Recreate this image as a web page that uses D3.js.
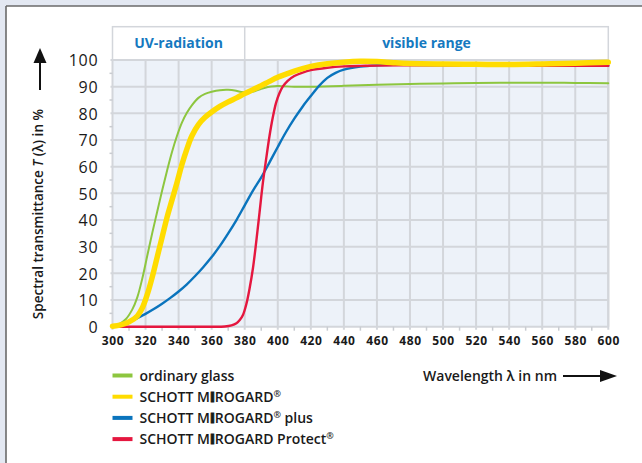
<!DOCTYPE html>
<html><head><meta charset="utf-8">
<script src="https://cdn.jsdelivr.net/npm/d3@7"></script>
<style>
body{margin:0;background:#e3e8f2;}
svg{display:block;font-family:"Open Sans",sans-serif;}
</style>
</head><body>
<svg id="c" width="642" height="463"></svg>
<script>
// ---- data (wavelength nm, transmittance %) ----
const ordinaryGlass = [[300,0.3],[304,1],[308,2.8],[312,6.5],[315,11],[318,18],[321,26.5],[324,35],[327,43],[330,51],[333,58.5],[336,65.5],[339,71.5],[342,76.5],[345,80.2],[348,83],[352,85.8],[356,87.3],[360,88.1],[365,88.7],[370,88.8],[374,88.6],[378,88.0],[382,87.9],[386,88.3],[390,89.2],[394,89.9],[398,90.2],[402,90.2],[410,90],[420,90],[440,90.3],[460,90.7],[480,91],[500,91.2],[520,91.4],[540,91.5],[560,91.5],[580,91.4],[600,91.3]];
const mirogard = [[300,0.2],[305,0.7],[310,1.8],[315,4],[318,7],[321,12],[324,18.5],[327,26],[330,33.5],[333,41],[336,47.5],[339,54],[342,60.8],[345,66.6],[348,71.5],[352,75.8],[356,78.5],[360,80.5],[365,82.6],[370,84.3],[375,85.8],[380,87.4],[385,88.9],[390,90.4],[395,92],[400,93.5],[405,94.7],[410,95.8],[415,96.8],[420,97.6],[430,98.6],[440,99.2],[450,99.5],[460,99.4],[470,99],[480,98.7],[500,98.5],[520,98.4],[540,98.3],[560,98.5],[580,98.8],[600,99.2]];
const mirogardPlus = [[300,0],[305,0.7],[310,1.7],[315,3.2],[320,4.8],[325,6.6],[330,8.6],[335,10.8],[340,13.2],[345,15.9],[350,19],[355,22.4],[360,26.1],[365,30.3],[370,35],[375,40],[380,45.5],[385,51],[390,56],[395,61.6],[400,67.4],[405,73],[410,78],[415,82.5],[420,86.5],[425,90.3],[430,93.3],[435,95.2],[440,96.4],[450,97.5],[460,98],[470,98.2],[480,98.2],[500,98.1],[520,98],[540,98],[560,98],[580,98],[600,97.9]];
const mirogardProtect = [[300,0],[320,0],[340,0],[360,0],[368,0.1],[372,0.5],[375,1.3],[377,2.5],[379,4.5],[381,8.5],[383,14.5],[385,22],[387,32],[389,43],[391,54],[393,63],[395,71.5],[397,78.5],[399,84],[401,87.5],[403,90],[406,92.2],[410,94],[415,95.3],[420,96.2],[430,97.1],[440,97.6],[450,97.8],[460,97.9],[480,98],[500,98],[520,97.9],[540,97.9],[560,97.8],[580,97.8],[600,97.8]];
const seriesNames = ["ordinary glass","SCHOTT MIROGARD®","SCHOTT MIROGARD® plus","SCHOTT MIROGARD Protect®"];
const seriesColors = ["#8dc63f","#ffdc00","#0a74bd","#e5173f"];
const xTicks = [300,320,340,360,380,400,420,440,460,480,500,520,540,560,580,600];
const yTicks = [0,10,20,30,40,50,60,70,80,90,100];
const rangeLabels = ["UV-radiation","visible range"];
const rangeBounds = [[300,380],[380,600]];

const svg = d3.select("#c");
// panel
svg.append("rect").attr("x",0).attr("y",0).attr("width",642).attr("height",463).attr("fill","#e3e8f2");
svg.append("rect").attr("x",6).attr("y",6).attr("width",640).attr("height",460).attr("fill","#fff");
svg.append("line").attr("x1",6).attr("x2",642).attr("y1",6).attr("y2",6).attr("stroke","#6a6a6a").attr("stroke-width",1.6);
svg.append("line").attr("x1",6).attr("x2",6).attr("y1",6).attr("y2",463).attr("stroke","#6a6a6a").attr("stroke-width",1.6);

const x = d3.scaleLinear().domain([300,600]).range([112.5,608.3]);
const y = d3.scaleLinear().domain([0,100]).range([326.7,60]);
const gridCol = "#d3d6db";

// plot background
svg.append("rect").attr("x",x(300)).attr("y",y(100)).attr("width",x(600)-x(300)).attr("height",y(0)-y(100)).attr("fill","#edf2f9");

// header band
const hTop = 26.7;
svg.append("rect").attr("x",x(300)).attr("y",hTop).attr("width",x(600)-x(300)).attr("height",y(100)-hTop)
  .attr("fill","#fff").attr("stroke",gridCol).attr("stroke-width",1.5);
svg.append("line").attr("x1",x(380)).attr("x2",x(380)).attr("y1",hTop).attr("y2",y(100)).attr("stroke",gridCol).attr("stroke-width",1.5);
svg.selectAll("text.range").data(rangeLabels).join("text").attr("class","range")
  .attr("x",(d,i)=>(x(rangeBounds[i][0])+x(rangeBounds[i][1]))/2).attr("y",48)
  .attr("text-anchor","middle").attr("fill","#1579c0").attr("font-weight",700).attr("font-size",14)
  .text(d=>d);

// grid
const g = svg.append("g");
g.selectAll("line.vg").data(xTicks).join("line").attr("class","vg")
  .attr("x1",d=>x(d)).attr("x2",d=>x(d)).attr("y1",y(100)).attr("y2",y(0)+3)
  .attr("stroke",gridCol).attr("stroke-width",2);
g.selectAll("line.hg").data(yTicks).join("line").attr("class","hg")
  .attr("x1",x(300)-2).attr("x2",x(600)).attr("y1",d=>y(d)).attr("y2",d=>y(d))
  .attr("stroke",gridCol).attr("stroke-width",2);
// minor ticks
const xMinor = xTicks.slice(0,-1).map(d=>d+10);
const yMinor = yTicks.slice(0,-1).map(d=>d+5);
g.selectAll("line.xm").data(xMinor).join("line").attr("class","xm")
  .attr("x1",d=>x(d)).attr("x2",d=>x(d)).attr("y1",y(0)).attr("y2",y(0)+4)
  .attr("stroke","#c9ccd1").attr("stroke-width",1.5);
g.selectAll("line.ym").data(yMinor).join("line").attr("class","ym")
  .attr("x1",x(300)-3).attr("x2",x(300)).attr("y1",d=>y(d)).attr("y2",d=>y(d))
  .attr("stroke","#c9ccd1").attr("stroke-width",1.5);
// right border
g.append("line").attr("x1",x(600)).attr("x2",x(600)).attr("y1",y(100)).attr("y2",y(0)).attr("stroke",gridCol).attr("stroke-width",2);

// axes labels via d3 axes
const yAxis = svg.append("g").attr("transform",`translate(${x(300)-14},0)`)
  .call(d3.axisLeft(y).tickValues(yTicks).tickSize(0).tickPadding(0));
yAxis.select(".domain").remove();
yAxis.selectAll("text").attr("font-size",16).attr("fill","#1a1a1a").attr("letter-spacing","0.8px")
  .attr("font-family","'Open Sans',sans-serif").attr("dy","0.36em");

const xAxis = svg.append("g").attr("transform",`translate(0,${y(0)+10})`)
  .call(d3.axisBottom(x).tickValues(xTicks).tickSize(0).tickPadding(0).tickFormat(d3.format("d")));
xAxis.select(".domain").remove();
xAxis.selectAll("text").attr("font-size",12).attr("font-weight",700).attr("fill","#1a1a1a")
  .attr("letter-spacing","0.6px").attr("font-family","'Open Sans',sans-serif").attr("dy","0.71em");

// curves
const line = d3.line().x(d=>x(d[0])).y(d=>y(d[1])).curve(d3.curveCatmullRom.alpha(0.5));
const data = [ordinaryGlass, mirogard, mirogardPlus, mirogardProtect];
const widths = [2,5.5,2.4,2.4];
const order = [0,2,3,1];
svg.append("g").selectAll("path").data(order).join("path")
  .attr("d",i=>line(data[i])).attr("fill","none").attr("stroke",i=>seriesColors[i])
  .attr("stroke-width",i=>widths[i]).attr("stroke-linejoin","round").attr("stroke-linecap","round");

// y title with arrow
const yt = svg.append("g").attr("transform","translate(43,214) rotate(-90)");
const ytx = yt.append("text").attr("text-anchor","middle").attr("font-size",13.5).attr("font-weight",600).attr("fill","#1a1a1a");
ytx.append("tspan").text("Spectral transmittance ");
ytx.append("tspan").attr("font-style","italic").text("T");
ytx.append("tspan").text(" (λ) in %");
svg.append("line").attr("x1",40).attr("x2",40).attr("y1",90).attr("y2",60).attr("stroke","#111").attr("stroke-width",2);
svg.append("path").attr("d","M40,48 L33.5,63 L46.5,63 Z").attr("fill","#111");

// x title with arrow
svg.append("text").attr("x",557).attr("y",381).attr("text-anchor","end").attr("font-size",14).attr("font-weight",600).attr("fill","#1a1a1a")
  .text("Wavelength λ in nm");
svg.append("line").attr("x1",563).attr("x2",602).attr("y1",376).attr("y2",376).attr("stroke","#111").attr("stroke-width",2);
svg.append("path").attr("d","M617,376 L600,370 L600,382 Z").attr("fill","#111");

// legend
const lg = svg.append("g").selectAll("g").data(seriesNames).join("g")
  .attr("transform",(d,i)=>`translate(112.5,${375.5 + i*21.2})`);
lg.append("line").attr("x1",0).attr("x2",20).attr("y1",0).attr("y2",0)
  .attr("stroke",(d,i)=>seriesColors[i]).attr("stroke-width",4);
const lt = lg.append("text").attr("x",27).attr("y",5).attr("font-size",14).attr("font-weight",600).attr("fill","#1a1a1a");
lt.each(function(d){
  const t = d3.select(this);
  const parts = d.split("MIROGARD");
  if (parts.length === 1) { t.text(d); return; }
  t.append("tspan").text(parts[0] + "M");
  t.append("tspan").attr("font-weight",800).attr("stroke","#1a1a1a").attr("stroke-width",0.8).text("I");
  const rest = "ROGARD" + parts[1];
  const segs = rest.split("®");
  segs.forEach((p,k)=>{
    const sp = t.append("tspan").text(p);
    if (k > 0) sp.attr("dy",5);
    if (k < segs.length-1) t.append("tspan").attr("font-size",9).attr("dy",-5).text("®");
  });
});
</script>
</body></html>
